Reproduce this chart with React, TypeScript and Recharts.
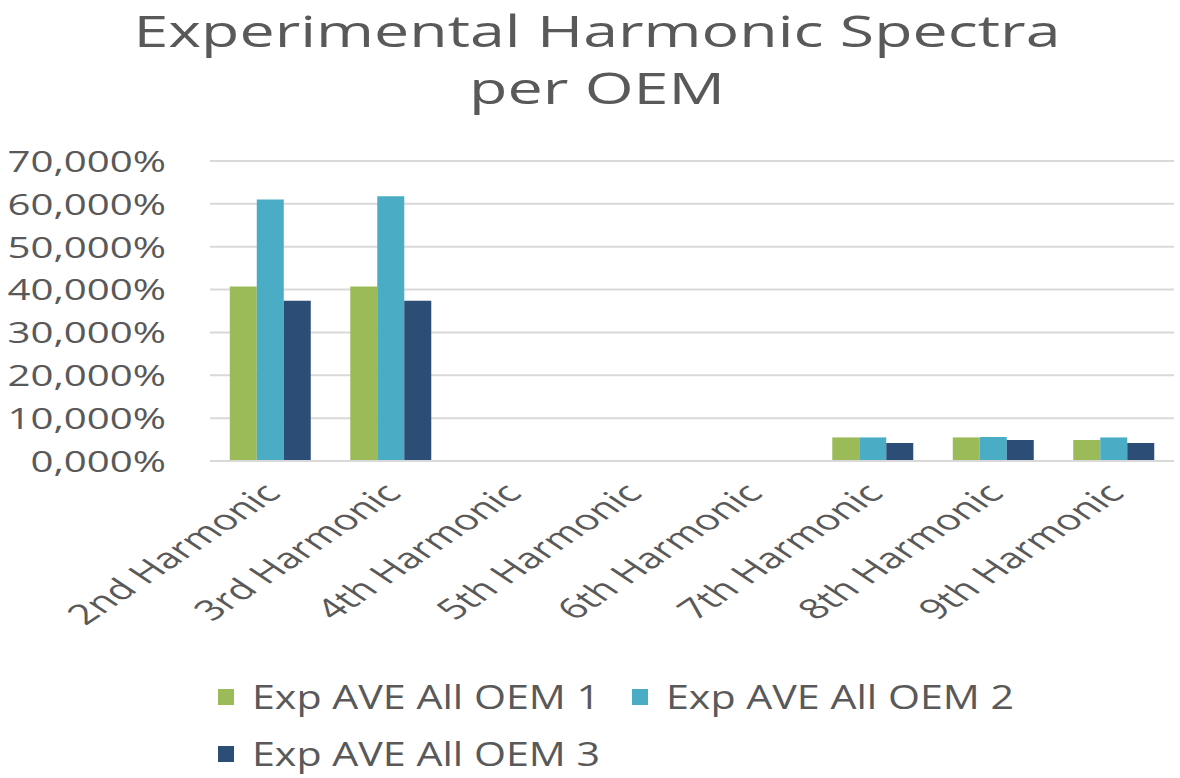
import { Bar, BarChart, CartesianGrid, XAxis, YAxis } from "recharts";

const harmonics = [
  "2nd Harmonic",
  "3rd Harmonic",
  "4th Harmonic",
  "5th Harmonic",
  "6th Harmonic",
  "7th Harmonic",
  "8th Harmonic",
  "9th Harmonic",
];

const oem1 = [40.7, 40.7, 0, 0, 0, 5.5, 5.5, 4.9];
const oem2 = [61.0, 61.8, 0, 0, 0, 5.5, 5.6, 5.5];
const oem3 = [37.4, 37.4, 0, 0, 0, 4.2, 4.9, 4.2];

const yTicks = [0, 10, 20, 30, 40, 50, 60, 70];

const SERIES = [
  { key: "oem1", name: "Exp AVE All OEM 1", color: "#9BBB59" },
  { key: "oem2", name: "Exp AVE All OEM 2", color: "#4BACC6" },
  { key: "oem3", name: "Exp AVE All OEM 3", color: "#2C4D75" },
];

const data = harmonics.map((name, i) => ({
  name,
  oem1: oem1[i],
  oem2: oem2[i],
  oem3: oem3[i],
}));

const FONT = "'Open Sans', sans-serif";
const TEXT = "#595959";

const fmtPct = (v: number) => v.toFixed(3).replace(".", ",") + "%";

function YTick({ x, y, payload }: { x?: number; y?: number; payload?: { value: number } }) {
  return (
    <text
      transform={`translate(${(x ?? 0)},${y ?? 0}) scale(1.34,1)`}
      textAnchor="end"
      dy="0.36em"
      fontFamily={FONT}
      fontSize={30}
      fill={TEXT}
    >
      {fmtPct(payload?.value ?? 0)}
    </text>
  );
}

// labels are slanted and stretched sideways like the source image
function XTick({ x, y, payload }: { x?: number; y?: number; payload?: { value: string } }) {
  return (
    <text
      transform={`translate(${(x ?? 0) + 12},${(y ?? 0) + 26}) scale(1.5,1) rotate(-45)`}
      textAnchor="end"
      fontFamily={FONT}
      fontSize={28}
      fill={TEXT}
    >
      {payload?.value}
    </text>
  );
}

const legendRows = [
  [0, 1],
  [2],
];

export default function App() {
  return (
    <div
      style={{
        position: "fixed",
        left: 0,
        top: 0,
        width: 1180,
        height: 778,
        background: "#fff",
        fontFamily: FONT,
      }}
    >
      <svg
        width={1180}
        height={130}
        style={{ position: "absolute", left: 0, top: 0 }}
      >
        <text
          x={597}
          y={47}
          textAnchor="middle"
          fontFamily={FONT}
          fontSize={44}
          fill={TEXT}
          textLength={927}
          lengthAdjust="spacingAndGlyphs"
        >
          Experimental Harmonic Spectra
        </text>
        <text
          x={597}
          y={104}
          textAnchor="middle"
          fontFamily={FONT}
          fontSize={44}
          fill={TEXT}
          textLength={256}
          lengthAdjust="spacingAndGlyphs"
        >
          per OEM
        </text>
      </svg>

      <div style={{ position: "absolute", left: 0, top: 0 }}>
        <BarChart
          width={1180}
          height={778}
          data={data}
          margin={{ top: 161, right: 6, bottom: 287, left: 0 }}
          barCategoryGap="16.4%"
          barGap={0}
        >
          <CartesianGrid vertical={false} stroke="#D9D9D9" strokeWidth={2} />
          <XAxis
            dataKey="name"
            height={30}
            axisLine={{ stroke: "#D9D9D9", strokeWidth: 2 }}
            tickLine={false}
            interval={0}
            tick={<XTick />}
          />
          <YAxis
            width={210}
            domain={[0, 70]}
            ticks={yTicks}
            axisLine={false}
            tickLine={false}
            tickMargin={38}
            tick={<YTick />}
          />
          {SERIES.map((s) => (
            <Bar key={s.key} dataKey={s.key} name={s.name} fill={s.color} isAnimationActive={false} />
          ))}
        </BarChart>
      </div>

      <svg width={1180} height={120} style={{ position: "absolute", left: 0, top: 660 }}>
        {legendRows.map((row, r) =>
          row.map((si, c) => {
            const s = SERIES[si];
            const x0 = c === 0 ? 218 : 632;
            const cy = 37 + r * 57;
            return (
              <g key={s.key}>
                <rect x={x0} y={cy - 8} width={16} height={16} fill={s.color} />
                <text
                  x={x0 + 34}
                  y={cy}
                  dy="0.36em"
                  fontFamily={FONT}
                  fontSize={32}
                  fill={TEXT}
                  textLength={348}
                  lengthAdjust="spacingAndGlyphs"
                >
                  {s.name}
                </text>
              </g>
            );
          })
        )}
      </svg>
    </div>
  );
}
